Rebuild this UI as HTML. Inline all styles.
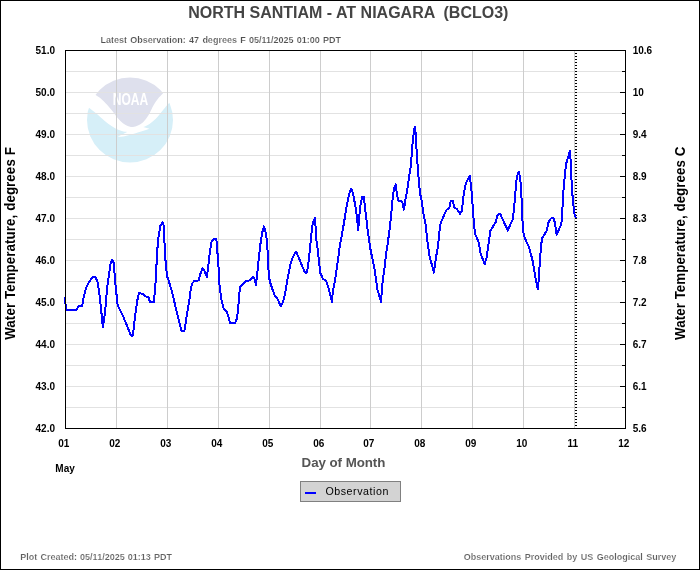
<!DOCTYPE html>
<html><head><meta charset="utf-8"><title>NORTH SANTIAM - AT NIAGARA (BCLO3)</title>
<style>html,body{margin:0;padding:0;background:#fff;}body{width:700px;height:570px;overflow:hidden;}</style></head>
<body>
<svg width="700" height="570" viewBox="0 0 700 570" style="display:block;will-change:transform">
<rect x="0" y="0" width="700" height="570" fill="#fff"/>
<filter id="bl" x="-5%" y="-5%" width="110%" height="110%"><feGaussianBlur stdDeviation="0.45"/></filter>
<g id="logo" filter="url(#bl)"><clipPath id="cc"><ellipse cx="130" cy="120" rx="43" ry="42.5"/></clipPath>
<g clip-path="url(#cc)"><path d="M95,94.7 C96.0,95.3 98.8,96.7 100.8,98.4 C102.8,100.1 105.2,102.6 107.1,104.7 C109.0,106.8 110.7,108.9 112.4,111.1 C114.2,113.3 115.8,115.9 117.6,117.9 C119.3,119.9 121.0,121.8 122.9,123.2 C124.8,124.6 127.5,125.8 129.2,126.4 C130.9,127.0 131.6,127.1 133.0,127.0 C134.4,126.9 136.4,126.2 137.9,125.6 C139.4,125.0 140.7,124.1 141.8,123.3 C142.9,122.5 143.3,122.2 144.6,120.6 C145.9,118.9 148.0,116.0 149.5,113.4 C151.0,110.8 152.1,107.6 153.7,105.0 C155.3,102.4 157.2,99.7 158.9,97.6 C160.6,95.5 162.9,93.3 163.7,92.4 L166,70 L93,70 Z" fill="#dee0ed"/><path d="M84,103.5 C84.8,104.2 87.0,106.0 88.7,107.4 C90.5,108.8 92.5,110.4 94.5,112.1 C96.5,113.8 98.5,115.5 100.8,117.4 C103.1,119.3 105.8,121.9 108.2,123.7 C110.7,125.5 113.2,127.2 115.5,128.4 C117.8,129.6 119.9,130.5 121.8,131.1 C123.7,131.7 126.2,131.9 127.1,132.1 L117.6,136.8 C118.5,136.8 120.8,136.9 123.0,136.6 C125.2,136.2 127.5,135.5 130.5,134.7 C133.5,133.8 137.9,132.5 141.1,131.5 C144.3,130.5 148.1,129.2 149.5,128.7 L143.2,127.1 C144.2,126.6 147.4,125.3 149.5,123.9 C151.6,122.5 153.7,120.8 155.8,118.7 C157.9,116.6 160.3,113.4 162.1,111.3 C163.8,109.2 165.1,107.6 166.3,106.1 C167.5,104.6 167.9,104.2 169.5,102.4 C171.1,100.6 174.9,96.2 176.0,95.0 L176,166 L84,166 Z" fill="#d6eff8"/></g>
<g fill="#fff"><text x="112.7" y="105" font-family="'Liberation Sans', sans-serif" font-weight="bold" font-size="15.6px" fill="#fff" textLength="35.5" lengthAdjust="spacingAndGlyphs">NOAA</text></g></g>
<g shape-rendering="crispEdges">
<rect x="66" y="71" width="559" height="1" fill="#e2e2e2"/>
<rect x="66" y="92" width="559" height="1" fill="#e2e2e2"/>
<rect x="66" y="113" width="559" height="1" fill="#e2e2e2"/>
<rect x="66" y="134" width="559" height="1" fill="#e2e2e2"/>
<rect x="66" y="155" width="559" height="1" fill="#e2e2e2"/>
<rect x="66" y="176" width="559" height="1" fill="#e2e2e2"/>
<rect x="66" y="197" width="559" height="1" fill="#e2e2e2"/>
<rect x="66" y="218" width="559" height="1" fill="#e2e2e2"/>
<rect x="66" y="239" width="559" height="1" fill="#e2e2e2"/>
<rect x="66" y="260" width="559" height="1" fill="#e2e2e2"/>
<rect x="66" y="281" width="559" height="1" fill="#e2e2e2"/>
<rect x="66" y="302" width="559" height="1" fill="#e2e2e2"/>
<rect x="66" y="323" width="559" height="1" fill="#e2e2e2"/>
<rect x="66" y="344" width="559" height="1" fill="#e2e2e2"/>
<rect x="66" y="365" width="559" height="1" fill="#e2e2e2"/>
<rect x="66" y="386" width="559" height="1" fill="#e2e2e2"/>
<rect x="66" y="407" width="559" height="1" fill="#e2e2e2"/>
<rect x="116" y="51" width="1" height="377" fill="#cdcdcd"/>
<rect x="167" y="51" width="1" height="377" fill="#cdcdcd"/>
<rect x="218" y="51" width="1" height="377" fill="#cdcdcd"/>
<rect x="269" y="51" width="1" height="377" fill="#cdcdcd"/>
<rect x="320" y="51" width="1" height="377" fill="#cdcdcd"/>
<rect x="370" y="51" width="1" height="377" fill="#cdcdcd"/>
<rect x="421" y="51" width="1" height="377" fill="#cdcdcd"/>
<rect x="472" y="51" width="1" height="377" fill="#cdcdcd"/>
<rect x="523" y="51" width="1" height="377" fill="#cdcdcd"/>
<rect x="574" y="51" width="1" height="377" fill="#cdcdcd"/>
<rect x="622" y="71" width="3" height="1" fill="#000"/>
<rect x="620" y="92" width="5" height="1" fill="#000"/>
<rect x="622" y="113" width="3" height="1" fill="#000"/>
<rect x="620" y="134" width="5" height="1" fill="#000"/>
<rect x="622" y="155" width="3" height="1" fill="#000"/>
<rect x="620" y="176" width="5" height="1" fill="#000"/>
<rect x="622" y="197" width="3" height="1" fill="#000"/>
<rect x="620" y="218" width="5" height="1" fill="#000"/>
<rect x="622" y="239" width="3" height="1" fill="#000"/>
<rect x="620" y="260" width="5" height="1" fill="#000"/>
<rect x="622" y="281" width="3" height="1" fill="#000"/>
<rect x="620" y="302" width="5" height="1" fill="#000"/>
<rect x="622" y="323" width="3" height="1" fill="#000"/>
<rect x="620" y="344" width="5" height="1" fill="#000"/>
<rect x="622" y="365" width="3" height="1" fill="#000"/>
<rect x="620" y="386" width="5" height="1" fill="#000"/>
<rect x="622" y="407" width="3" height="1" fill="#000"/>
<rect x="575" y="53" width="2" height="1" fill="#000"/>
<rect x="575" y="56" width="2" height="1" fill="#000"/>
<rect x="575" y="59" width="2" height="1" fill="#000"/>
<rect x="575" y="62" width="2" height="1" fill="#000"/>
<rect x="575" y="65" width="2" height="1" fill="#000"/>
<rect x="575" y="68" width="2" height="1" fill="#000"/>
<rect x="575" y="71" width="2" height="1" fill="#000"/>
<rect x="575" y="74" width="2" height="1" fill="#000"/>
<rect x="575" y="77" width="2" height="1" fill="#000"/>
<rect x="575" y="80" width="2" height="1" fill="#000"/>
<rect x="575" y="83" width="2" height="1" fill="#000"/>
<rect x="575" y="86" width="2" height="1" fill="#000"/>
<rect x="575" y="89" width="2" height="1" fill="#000"/>
<rect x="575" y="92" width="2" height="1" fill="#000"/>
<rect x="575" y="95" width="2" height="1" fill="#000"/>
<rect x="575" y="98" width="2" height="1" fill="#000"/>
<rect x="575" y="101" width="2" height="1" fill="#000"/>
<rect x="575" y="104" width="2" height="1" fill="#000"/>
<rect x="575" y="107" width="2" height="1" fill="#000"/>
<rect x="575" y="110" width="2" height="1" fill="#000"/>
<rect x="575" y="113" width="2" height="1" fill="#000"/>
<rect x="575" y="116" width="2" height="1" fill="#000"/>
<rect x="575" y="119" width="2" height="1" fill="#000"/>
<rect x="575" y="122" width="2" height="1" fill="#000"/>
<rect x="575" y="125" width="2" height="1" fill="#000"/>
<rect x="575" y="128" width="2" height="1" fill="#000"/>
<rect x="575" y="131" width="2" height="1" fill="#000"/>
<rect x="575" y="134" width="2" height="1" fill="#000"/>
<rect x="575" y="137" width="2" height="1" fill="#000"/>
<rect x="575" y="140" width="2" height="1" fill="#000"/>
<rect x="575" y="143" width="2" height="1" fill="#000"/>
<rect x="575" y="146" width="2" height="1" fill="#000"/>
<rect x="575" y="149" width="2" height="1" fill="#000"/>
<rect x="575" y="152" width="2" height="1" fill="#000"/>
<rect x="575" y="155" width="2" height="1" fill="#000"/>
<rect x="575" y="158" width="2" height="1" fill="#000"/>
<rect x="575" y="161" width="2" height="1" fill="#000"/>
<rect x="575" y="164" width="2" height="1" fill="#000"/>
<rect x="575" y="167" width="2" height="1" fill="#000"/>
<rect x="575" y="170" width="2" height="1" fill="#000"/>
<rect x="575" y="173" width="2" height="1" fill="#000"/>
<rect x="575" y="176" width="2" height="1" fill="#000"/>
<rect x="575" y="179" width="2" height="1" fill="#000"/>
<rect x="575" y="182" width="2" height="1" fill="#000"/>
<rect x="575" y="185" width="2" height="1" fill="#000"/>
<rect x="575" y="188" width="2" height="1" fill="#000"/>
<rect x="575" y="191" width="2" height="1" fill="#000"/>
<rect x="575" y="194" width="2" height="1" fill="#000"/>
<rect x="575" y="197" width="2" height="1" fill="#000"/>
<rect x="575" y="200" width="2" height="1" fill="#000"/>
<rect x="575" y="203" width="2" height="1" fill="#000"/>
<rect x="575" y="206" width="2" height="1" fill="#000"/>
<rect x="575" y="209" width="2" height="1" fill="#000"/>
<rect x="575" y="212" width="2" height="1" fill="#000"/>
<rect x="575" y="215" width="2" height="1" fill="#000"/>
<rect x="575" y="218" width="2" height="1" fill="#000"/>
<rect x="575" y="221" width="2" height="1" fill="#000"/>
<rect x="575" y="224" width="2" height="1" fill="#000"/>
<rect x="575" y="227" width="2" height="1" fill="#000"/>
<rect x="575" y="230" width="2" height="1" fill="#000"/>
<rect x="575" y="233" width="2" height="1" fill="#000"/>
<rect x="575" y="236" width="2" height="1" fill="#000"/>
<rect x="575" y="239" width="2" height="1" fill="#000"/>
<rect x="575" y="242" width="2" height="1" fill="#000"/>
<rect x="575" y="245" width="2" height="1" fill="#000"/>
<rect x="575" y="248" width="2" height="1" fill="#000"/>
<rect x="575" y="251" width="2" height="1" fill="#000"/>
<rect x="575" y="254" width="2" height="1" fill="#000"/>
<rect x="575" y="257" width="2" height="1" fill="#000"/>
<rect x="575" y="260" width="2" height="1" fill="#000"/>
<rect x="575" y="263" width="2" height="1" fill="#000"/>
<rect x="575" y="266" width="2" height="1" fill="#000"/>
<rect x="575" y="269" width="2" height="1" fill="#000"/>
<rect x="575" y="272" width="2" height="1" fill="#000"/>
<rect x="575" y="275" width="2" height="1" fill="#000"/>
<rect x="575" y="278" width="2" height="1" fill="#000"/>
<rect x="575" y="281" width="2" height="1" fill="#000"/>
<rect x="575" y="284" width="2" height="1" fill="#000"/>
<rect x="575" y="287" width="2" height="1" fill="#000"/>
<rect x="575" y="290" width="2" height="1" fill="#000"/>
<rect x="575" y="293" width="2" height="1" fill="#000"/>
<rect x="575" y="296" width="2" height="1" fill="#000"/>
<rect x="575" y="299" width="2" height="1" fill="#000"/>
<rect x="575" y="302" width="2" height="1" fill="#000"/>
<rect x="575" y="305" width="2" height="1" fill="#000"/>
<rect x="575" y="308" width="2" height="1" fill="#000"/>
<rect x="575" y="311" width="2" height="1" fill="#000"/>
<rect x="575" y="314" width="2" height="1" fill="#000"/>
<rect x="575" y="317" width="2" height="1" fill="#000"/>
<rect x="575" y="320" width="2" height="1" fill="#000"/>
<rect x="575" y="323" width="2" height="1" fill="#000"/>
<rect x="575" y="326" width="2" height="1" fill="#000"/>
<rect x="575" y="329" width="2" height="1" fill="#000"/>
<rect x="575" y="332" width="2" height="1" fill="#000"/>
<rect x="575" y="335" width="2" height="1" fill="#000"/>
<rect x="575" y="338" width="2" height="1" fill="#000"/>
<rect x="575" y="341" width="2" height="1" fill="#000"/>
<rect x="575" y="344" width="2" height="1" fill="#000"/>
<rect x="575" y="347" width="2" height="1" fill="#000"/>
<rect x="575" y="350" width="2" height="1" fill="#000"/>
<rect x="575" y="353" width="2" height="1" fill="#000"/>
<rect x="575" y="356" width="2" height="1" fill="#000"/>
<rect x="575" y="359" width="2" height="1" fill="#000"/>
<rect x="575" y="362" width="2" height="1" fill="#000"/>
<rect x="575" y="365" width="2" height="1" fill="#000"/>
<rect x="575" y="368" width="2" height="1" fill="#000"/>
<rect x="575" y="371" width="2" height="1" fill="#000"/>
<rect x="575" y="374" width="2" height="1" fill="#000"/>
<rect x="575" y="377" width="2" height="1" fill="#000"/>
<rect x="575" y="380" width="2" height="1" fill="#000"/>
<rect x="575" y="383" width="2" height="1" fill="#000"/>
<rect x="575" y="386" width="2" height="1" fill="#000"/>
<rect x="575" y="389" width="2" height="1" fill="#000"/>
<rect x="575" y="392" width="2" height="1" fill="#000"/>
<rect x="575" y="395" width="2" height="1" fill="#000"/>
<rect x="575" y="398" width="2" height="1" fill="#000"/>
<rect x="575" y="401" width="2" height="1" fill="#000"/>
<rect x="575" y="404" width="2" height="1" fill="#000"/>
<rect x="575" y="407" width="2" height="1" fill="#000"/>
<rect x="575" y="410" width="2" height="1" fill="#000"/>
<rect x="575" y="413" width="2" height="1" fill="#000"/>
<rect x="575" y="416" width="2" height="1" fill="#000"/>
<rect x="575" y="419" width="2" height="1" fill="#000"/>
<rect x="575" y="422" width="2" height="1" fill="#000"/>
<rect x="575" y="425" width="2" height="1" fill="#000"/>
</g>
<polyline points="64.7,297.3 66.3,310.4 76.3,310.4 78.4,306.2 82.1,306.2 83.7,297.3 86.0,287.9 89.2,281.6 93.1,276.8 95.5,277.1 97.9,283.1 100.2,300.5 102.9,327.2 105.0,313.1 107.3,286.3 110.5,264.2 112.1,260.0 113.7,262.6 115.2,281.6 117.6,305.2 123.1,316.3 131.0,335.6 132.9,335.6 135.0,316.3 137.3,300.5 138.9,293.4 142.9,293.6 146.0,296.6 148.4,297.3 150.0,302.0 153.9,302.0 155.5,282.9 156.3,268.7 157.1,252.9 158.2,238.7 160.3,226.0 162.6,222.2 163.4,222.9 163.9,232.4 165.0,251.3 165.8,265.5 167.4,277.3 168.9,281.3 172.1,292.1 177.1,313.6 181.7,331.4 184.3,331.4 186.4,317.9 189.3,300.7 190.7,289.3 192.1,283.6 194.3,281.0 198.6,280.4 200.7,272.9 202.6,268.4 204.0,270.0 206.9,276.8 208.4,265.5 209.7,252.9 211.6,241.8 213.9,239.0 216.3,239.0 217.1,248.1 218.2,262.3 219.0,275.0 219.3,283.6 221.4,299.3 223.6,308.6 226.4,311.0 227.9,315.0 230.0,323.0 235.0,323.0 236.9,318.6 238.3,307.9 239.0,295.0 240.3,287.1 242.9,284.3 245.4,281.0 250.0,280.4 252.9,276.8 254.3,277.9 256.0,285.2 257.9,267.1 260.0,247.1 262.1,232.9 264.0,226.4 265.7,232.9 267.1,241.4 268.3,267.1 269.3,278.6 270.7,284.3 275.0,296.4 277.1,297.9 280.7,306.2 282.9,302.1 285.3,292.9 287.1,280.7 290.7,262.9 292.9,257.1 296.0,251.6 298.6,257.1 301.4,264.3 305.0,272.6 307.1,272.6 308.9,258.6 310.7,241.4 312.1,227.1 313.6,220.7 315.0,218.0 315.7,228.6 316.4,240.0 317.9,251.4 319.3,264.3 320.3,272.9 322.9,278.6 325.7,280.7 326.4,281.4 329.3,290.7 331.9,302.0 332.9,290.7 335.0,280.7 337.9,260.7 338.6,255.0 340.0,245.0 343.6,225.0 347.1,203.6 349.3,193.6 351.1,188.6 353.1,193.6 355.4,206.4 357.1,217.9 358.1,230.6 359.3,216.4 360.7,203.6 362.1,197.0 364.0,197.0 365.0,207.9 366.4,219.3 367.9,232.1 370.7,250.7 374.3,267.9 377.4,289.3 381.0,302.0 382.1,286.4 384.3,269.3 386.4,252.1 387.9,242.1 390.0,226.4 391.4,212.1 392.6,199.3 394.0,187.9 395.7,184.4 396.9,193.6 398.3,200.7 402.1,201.4 403.9,209.6 405.7,197.9 406.4,195.0 408.6,180.7 410.7,166.4 411.9,152.1 412.9,139.3 414.3,129.3 415.0,127.1 415.7,133.6 416.7,152.1 417.9,169.3 419.0,183.6 420.4,195.0 421.4,199.3 423.6,215.0 425.7,225.0 427.1,239.3 429.3,255.0 433.9,272.6 435.7,259.3 437.9,246.4 439.3,233.6 440.0,225.0 442.9,217.9 446.4,210.0 449.3,207.9 450.7,201.4 452.9,201.2 454.3,207.1 457.1,209.3 460.0,213.8 461.9,210.7 463.3,197.9 465.0,186.4 467.1,180.7 469.7,176.0 470.7,183.6 471.9,195.0 472.9,209.3 473.9,223.6 475.0,233.6 478.6,242.1 480.7,253.6 484.7,264.2 486.7,257.1 488.6,243.6 490.4,230.7 492.1,227.9 495.7,222.1 497.1,216.4 499.0,213.8 500.4,214.3 503.6,221.4 507.9,230.6 510.7,223.6 512.9,219.3 514.3,205.0 515.3,193.6 516.4,180.7 517.6,174.3 519.0,171.8 520.4,180.7 521.4,195.0 522.4,219.3 523.3,232.1 525.0,238.6 529.3,247.9 532.9,262.1 536.4,282.9 538.0,289.4 539.3,270.7 540.0,259.3 541.0,246.4 542.1,238.1 546.4,231.4 548.6,222.1 550.7,218.6 553.3,218.0 554.7,222.1 556.7,234.8 559.0,229.3 561.0,225.0 562.1,217.9 562.9,197.1 563.9,185.7 565.0,172.9 566.4,162.9 568.6,155.7 570.0,150.8 570.7,161.4 571.4,178.6 572.4,194.3 573.6,207.1 574.7,215.7 576.0,218.0" fill="none" stroke="#0000ff" stroke-width="2" stroke-linejoin="round" shape-rendering="crispEdges"/>
<rect x="65.5" y="50.5" width="560" height="378" fill="none" stroke="#000" stroke-width="1" shape-rendering="crispEdges"/>
<rect x="0.5" y="0.5" width="699" height="569" fill="none" stroke="#000" stroke-width="1" shape-rendering="crispEdges"/>
<g font-family="'Liberation Sans', sans-serif" font-weight="bold">
<text id="title" x="348.3" y="18" font-size="16px" fill="#444" text-anchor="middle" xml:space="preserve">NORTH SANTIAM - AT NIAGARA  (BCLO3)</text>
<text id="sub" stroke="#fff" stroke-width="0.16" x="100.6" y="43" font-size="9px" fill="#505050" word-spacing="0.75px">Latest Observation: 47 degrees F 05/11/2025 01:00 PDT</text>
<text class="yl" x="55" y="53.6" font-size="10px" fill="#000" text-anchor="end">51.0</text>
<text class="yl" x="55" y="95.6" font-size="10px" fill="#000" text-anchor="end">50.0</text>
<text class="yl" x="55" y="137.6" font-size="10px" fill="#000" text-anchor="end">49.0</text>
<text class="yl" x="55" y="179.6" font-size="10px" fill="#000" text-anchor="end">48.0</text>
<text class="yl" x="55" y="221.6" font-size="10px" fill="#000" text-anchor="end">47.0</text>
<text class="yl" x="55" y="263.6" font-size="10px" fill="#000" text-anchor="end">46.0</text>
<text class="yl" x="55" y="305.6" font-size="10px" fill="#000" text-anchor="end">45.0</text>
<text class="yl" x="55" y="347.6" font-size="10px" fill="#000" text-anchor="end">44.0</text>
<text class="yl" x="55" y="389.6" font-size="10px" fill="#000" text-anchor="end">43.0</text>
<text class="yl" x="55" y="431.6" font-size="10px" fill="#000" text-anchor="end">42.0</text>
<text class="yr" x="632.7" y="53.6" font-size="10px" fill="#000">10.6</text>
<text class="yr" x="632.7" y="95.6" font-size="10px" fill="#000">10</text>
<text class="yr" x="632.7" y="137.6" font-size="10px" fill="#000">9.4</text>
<text class="yr" x="632.7" y="179.6" font-size="10px" fill="#000">8.9</text>
<text class="yr" x="632.7" y="221.6" font-size="10px" fill="#000">8.3</text>
<text class="yr" x="632.7" y="263.6" font-size="10px" fill="#000">7.8</text>
<text class="yr" x="632.7" y="305.6" font-size="10px" fill="#000">7.2</text>
<text class="yr" x="632.7" y="347.6" font-size="10px" fill="#000">6.7</text>
<text class="yr" x="632.7" y="389.6" font-size="10px" fill="#000">6.1</text>
<text class="yr" x="632.7" y="431.6" font-size="10px" fill="#000">5.6</text>
<text class="xl" x="63.7" y="446.6" font-size="10px" fill="#000" text-anchor="middle">01</text>
<text class="xl" x="114.7" y="446.6" font-size="10px" fill="#000" text-anchor="middle">02</text>
<text class="xl" x="165.7" y="446.6" font-size="10px" fill="#000" text-anchor="middle">03</text>
<text class="xl" x="216.7" y="446.6" font-size="10px" fill="#000" text-anchor="middle">04</text>
<text class="xl" x="267.7" y="446.6" font-size="10px" fill="#000" text-anchor="middle">05</text>
<text class="xl" x="318.7" y="446.6" font-size="10px" fill="#000" text-anchor="middle">06</text>
<text class="xl" x="368.7" y="446.6" font-size="10px" fill="#000" text-anchor="middle">07</text>
<text class="xl" x="419.7" y="446.6" font-size="10px" fill="#000" text-anchor="middle">08</text>
<text class="xl" x="470.7" y="446.6" font-size="10px" fill="#000" text-anchor="middle">09</text>
<text class="xl" x="521.7" y="446.6" font-size="10px" fill="#000" text-anchor="middle">10</text>
<text class="xl" x="572.7" y="446.6" font-size="10px" fill="#000" text-anchor="middle">11</text>
<text class="xl" x="623.7" y="446.6" font-size="10px" fill="#000" text-anchor="middle">12</text>
<text id="may" x="55.3" y="472.4" font-size="10px" fill="#000">May</text>
<text id="dom" x="301.6" y="466.6" font-size="13.33px" fill="#555" textLength="83.8" lengthAdjust="spacing">Day of Month</text>
<text id="yl" transform="translate(15,339.8) rotate(-90) scale(1,1.05)" font-size="13.33px" fill="#000" textLength="192.6" lengthAdjust="spacing">Water Temperature, degrees F</text>
<text id="yr" transform="translate(685,339.9) rotate(-90) scale(1,1.05)" font-size="13.33px" fill="#000" textLength="193.2" lengthAdjust="spacing">Water Temperature, degrees C</text>
<text id="pc" stroke="#fff" stroke-width="0.16" x="20.3" y="560" font-size="9px" fill="#606060" word-spacing="0.65px">Plot Created: 05/11/2025 01:13 PDT</text>
<text id="obs" stroke="#fff" stroke-width="0.16" x="463.7" y="560" font-size="9px" fill="#606060" word-spacing="1px">Observations Provided by US Geological Survey</text>
</g>
<rect x="300.5" y="481.5" width="100" height="20" fill="#d3d3d3" stroke="#808080" stroke-width="1" shape-rendering="crispEdges"/>
<rect x="305" y="492" width="11" height="2" fill="#0000ff" shape-rendering="crispEdges"/>
<text id="leg" x="325.4" y="495" font-family="'Liberation Sans', sans-serif" font-size="10.67px" fill="#000" textLength="63" lengthAdjust="spacing">Observation</text>
</svg>
</body></html>
